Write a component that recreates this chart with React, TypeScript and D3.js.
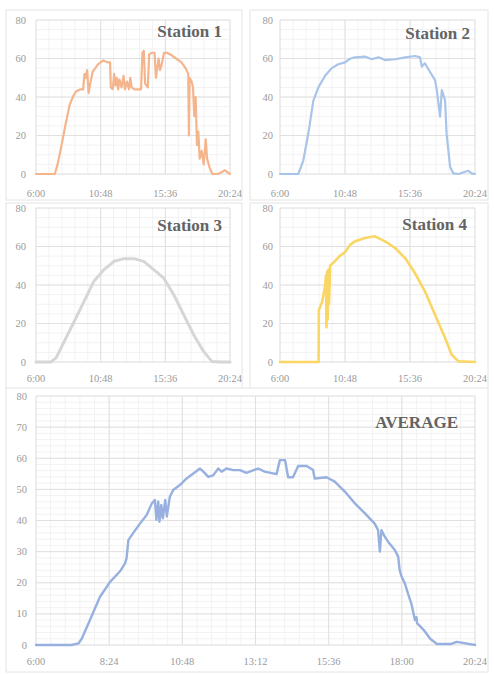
// Four station panels plus an average panel, Excel-like line charts
import React from 'react';
import { scaleLinear, line, range } from 'd3';

// [hour of day, value] pairs
const station1: [number, number][] = [
  [6.0, 0], [7.4, 0], [7.6, 5], [7.9, 15], [8.2, 26], [8.5, 36], [8.8, 41], [9.0, 43], [9.3, 44], [9.5, 44],
  [9.6, 52], [9.7, 50], [9.8, 54], [9.9, 42], [10.0, 46], [10.2, 53], [10.4, 55], [10.6, 57], [10.8, 58],
  [11.0, 59], [11.3, 58], [11.5, 58], [11.55, 45], [11.7, 44], [11.8, 52], [11.9, 46], [12.0, 50], [12.1, 44],
  [12.2, 49], [12.35, 45], [12.5, 51], [12.6, 44], [12.75, 48], [12.9, 44], [13.0, 50], [13.1, 45], [13.3, 44],
  [13.6, 44], [13.8, 44], [13.9, 63], [14.0, 64], [14.1, 47], [14.3, 45], [14.4, 62], [14.6, 63], [14.8, 63],
  [14.9, 50], [15.0, 55], [15.1, 60], [15.2, 54], [15.3, 56], [15.5, 63], [15.7, 63], [16.0, 62], [16.4, 60],
  [16.8, 58], [17.1, 55], [17.3, 52], [17.35, 20], [17.4, 50], [17.55, 48], [17.65, 45], [17.75, 30],
  [17.85, 40], [17.95, 15], [18.05, 22], [18.15, 8], [18.3, 12], [18.45, 5], [18.6, 18], [18.7, 8],
  [18.9, 3], [19.1, 0], [19.5, 0], [19.8, 1], [20.0, 2], [20.2, 1], [20.4, 0],
];

const station2: [number, number][] = [
  [6.0, 0], [7.35, 0], [7.72, 7], [8.09, 21], [8.46, 38], [8.83, 45], [9.33, 51], [9.82, 55], [10.3, 57],
  [10.8, 58], [11.2, 60], [11.54, 60.6], [12.28, 61], [12.77, 59.6], [13.27, 60.6], [13.76, 59.2],
  [14.5, 59.6], [15.24, 60.6], [15.97, 61.3], [16.34, 60.6], [16.47, 55.8], [16.7, 57.5], [17.08, 53],
  [17.45, 48.8], [17.58, 43.6], [17.82, 29.8], [17.95, 43.6], [18.19, 38.4], [18.3, 21], [18.56, 3.8],
  [18.8, 0.3], [19.18, 0], [19.67, 1.2], [19.9, 1.7], [20.15, 0.3], [20.4, 0],
];

const station3: [number, number][] = [
  [6.0, 0], [7.1, 0], [7.48, 2], [8.1, 10.7], [8.83, 21], [9.57, 31.5], [10.3, 42], [11.05, 48],
  [11.79, 52.3], [12.53, 53.7], [13.27, 53.7], [14.0, 52.3], [14.74, 48], [15.48, 43.6], [16.22, 35],
  [16.96, 24.6], [17.7, 14.2], [18.44, 5.5], [19.05, 0.3], [19.67, 0], [20.4, 0],
];

const station4: [number, number][] = [
  [6.0, 0], [8.85, 0], [8.87, 27], [9.1, 31], [9.3, 38], [9.4, 45], [9.43, 18], [9.48, 47], [9.52, 22],
  [9.58, 48], [9.62, 30], [9.7, 50], [10.0, 52], [10.4, 55], [10.8, 57], [11.2, 61], [11.54, 62.7],
  [12.28, 64.4], [13.0, 65.3], [13.76, 62.7], [14.5, 59.2], [15.24, 54], [15.97, 46.2], [16.7, 36.7],
  [17.45, 24.6], [18.19, 12.5], [18.68, 3.8], [19.18, 0.3], [20.4, 0],
];

const average: [number, number][] = [
  [6.0, 0], [7.17, 0], [7.39, 0.5], [7.5, 2], [7.77, 8], [8.1, 15.5], [8.43, 20.3], [8.75, 23.6],
  [8.92, 26.2], [8.97, 27.8], [9.03, 33.7], [9.14, 35.3], [9.41, 39], [9.63, 41.8], [9.8, 45.5],
  [9.9, 46.6], [9.95, 40.2], [10.01, 46.1], [10.05, 39.6], [10.11, 45], [10.16, 40.7], [10.24, 46.6],
  [10.29, 41.3], [10.39, 47.6], [10.5, 49.8], [10.72, 51.4], [10.94, 53.5], [11.16, 55.1], [11.38, 56.7],
  [11.49, 55.7], [11.65, 54], [11.81, 54.5], [11.98, 56.7], [12.09, 55.7], [12.25, 56.7], [12.47, 56.2],
  [12.69, 56.2], [12.9, 55.3], [13.29, 56.7], [13.5, 55.7], [13.89, 54.9], [14.0, 59.4], [14.17, 59.4],
  [14.27, 53.9], [14.43, 53.9], [14.6, 57.5], [14.88, 57.5], [15.09, 56.2], [15.14, 53.5], [15.53, 53.9],
  [15.8, 52.5], [16.13, 49.3], [16.46, 45.5], [16.79, 42.3], [17.11, 39], [17.22, 36.9], [17.28, 30],
  [17.33, 36.9], [17.44, 34.8], [17.55, 33.2], [17.77, 30.5], [17.88, 28.4], [17.93, 24], [17.99, 22],
  [18.1, 19.8], [18.2, 16.6], [18.31, 13.4], [18.43, 8], [18.48, 9], [18.5, 7], [18.72, 4.8], [18.93, 2],
  [19.15, 0.3], [19.6, 0.3], [19.8, 1], [20.0, 0.7], [20.4, 0],
];

const smallXTicks = ['6:00', '10:48', '15:36', '20:24'];
const avgXTicks = ['6:00', '8:24', '10:48', '13:12', '15:36', '18:00', '20:24'];
const smallYTicks = [0, 20, 40, 60, 80];
const avgYTicks = [0, 10, 20, 30, 40, 50, 60, 70, 80];

const toHour = (s: string) => {
  const [h, m] = s.split(':').map(Number);
  return h + m / 60;
};

type Box = { x: number; y: number; w: number; h: number };

function Panel(props: {
  frame: Box; plot: Box; data: [number, number][]; color: string; title: string;
  titleX: number; titleY: number; xTicks: string[]; yTicks: number[];
  xMinor: number; yMinor: number; labelEnd: number; xLabelY: number; width: number;
}) {
  const { frame, plot, data, color, title, xTicks, yTicks } = props;
  const x = scaleLinear().domain([6, 20.4]).range([plot.x, plot.x + plot.w]);
  const y = scaleLinear().domain([0, 80]).range([plot.y + plot.h, plot.y]);
  const xs = xTicks.map(toHour);
  const xStep = (xs[1] - xs[0]) / props.xMinor;
  const yStep = (yTicks[1] - yTicks[0]) / props.yMinor;
  const minorX = range(6, 20.41, xStep);
  const minorY = range(0, 80.01, yStep);
  const path = line<[number, number]>().x(d => x(d[0])).y(d => y(d[1]))(data) || '';
  return (
    <g>
      <rect x={frame.x} y={frame.y} width={frame.w} height={frame.h} fill="white" stroke="#e4e4e4" strokeWidth={1} />
      {minorY.map((v, i) => (
        <line key={'my' + i} x1={plot.x} x2={plot.x + plot.w} y1={y(v)} y2={y(v)} stroke="#f2f2f2" strokeWidth={1} />
      ))}
      {minorX.map((v, i) => (
        <line key={'mx' + i} x1={x(v)} x2={x(v)} y1={plot.y} y2={plot.y + plot.h} stroke="#f2f2f2" strokeWidth={1} />
      ))}
      {yTicks.map(v => (
        <line key={'gy' + v} x1={plot.x} x2={plot.x + plot.w} y1={y(v)} y2={y(v)} stroke="#e0e0e0" strokeWidth={1} />
      ))}
      {xs.map(v => (
        <line key={'gx' + v} x1={x(v)} x2={x(v)} y1={plot.y} y2={plot.y + plot.h} stroke="#e0e0e0" strokeWidth={1} />
      ))}
      <path d={path} fill="none" stroke={color} strokeWidth={props.width} strokeLinejoin="round" strokeLinecap="round" />
      {yTicks.map(v => (
        <text key={'ty' + v} x={props.labelEnd} y={y(v) + 3.5} textAnchor="end" fontSize={10.5} fill="#9a9a9a"
          fontFamily="'Liberation Serif', serif">{v}</text>
      ))}
      {xTicks.map((t, i) => (
        <text key={'tx' + t} x={x(xs[i])} y={props.xLabelY} textAnchor="middle" fontSize={10.5} fill="#9a9a9a"
          fontFamily="'Liberation Serif', serif">{t}</text>
      ))}
      <text x={props.titleX} y={props.titleY} textAnchor="end" fontSize={17} fontWeight="bold" fill="#636363"
        fontFamily="'Liberation Serif', serif">{title}</text>
    </g>
  );
}

export default function App() {
  const small = { xTicks: smallXTicks, yTicks: smallYTicks, xMinor: 5, yMinor: 4 };
  return (
    <svg width={494} height={674} style={{ position: 'absolute', left: 0, top: 0, background: 'white' }}>
      <Panel {...small} frame={{ x: 6, y: 10, w: 236, h: 190 }} plot={{ x: 36, y: 20, w: 194, h: 154 }} width={2.2}
        data={station1} color="#f5b58c" title="Station 1" titleX={222} titleY={37} labelEnd={26} xLabelY={197} />
      <Panel {...small} frame={{ x: 250, y: 10, w: 238, h: 190 }} plot={{ x: 280, y: 20, w: 195, h: 154 }} width={2.2}
        data={station2} color="#a9c4ea" title="Station 2" titleX={470} titleY={39} labelEnd={273} xLabelY={197} />
      <Panel {...small} frame={{ x: 6, y: 203, w: 236, h: 186 }} plot={{ x: 36, y: 208, w: 194, h: 154 }} width={3}
        data={station3} color="#d6d6d6" title="Station 3" titleX={222} titleY={231} labelEnd={26} xLabelY={382} />
      <Panel {...small} frame={{ x: 250, y: 203, w: 238, h: 186 }} plot={{ x: 280, y: 208, w: 195, h: 154 }} width={2.6}
        data={station4} color="#fad664" title="Station 4" titleX={467} titleY={230} labelEnd={273} xLabelY={382} />
      <Panel frame={{ x: 6, y: 388, w: 482, h: 284 }} plot={{ x: 36, y: 396, w: 439, h: 249 }}
        data={average} color="#97b0e0" title="AVERAGE" titleX={458} titleY={428} xTicks={avgXTicks}
        yTicks={avgYTicks} xMinor={5} yMinor={5} labelEnd={27} xLabelY={665} width={2.4} />
    </svg>
  );
}
